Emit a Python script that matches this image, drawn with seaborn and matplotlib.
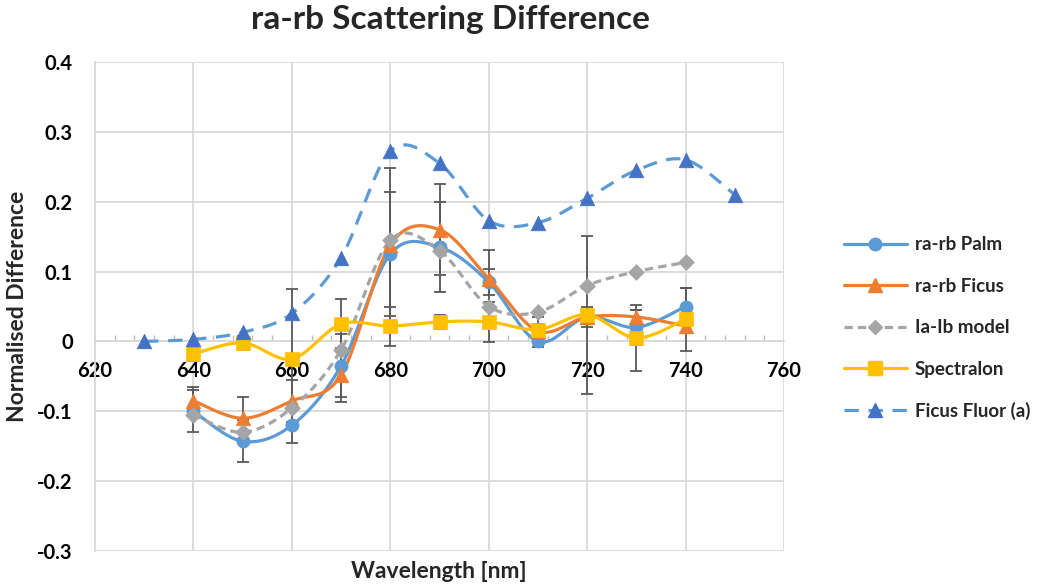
import numpy as np
import matplotlib
matplotlib.use("Agg")
import matplotlib.pyplot as plt
import seaborn as sns
import pandas as pd
from matplotlib.lines import Line2D
from matplotlib.ticker import MultipleLocator

# ---- data -------------------------------------------------------------
wl = [640, 650, 660, 670, 680, 690, 700, 710, 720, 730, 740]
wl_fluor = [630, 640, 650, 660, 670, 680, 690, 700, 710, 720, 730, 740, 750]

palm = [-0.100, -0.143, -0.120, -0.035, 0.125, 0.135, 0.085, 0.000, 0.035, 0.020, 0.050]
palm_err = [0.030, 0.030, 0.026, 0.045, 0.089, 0.064, 0.018, 0.008, 0.015, 0.025, 0.027]

ficus = [-0.085, -0.110, -0.085, -0.048, 0.138, 0.160, 0.090, 0.015, 0.035, 0.035, 0.022]
ficus_err = [0.020, 0.030, 0.030, 0.039, 0.110, 0.065, 0.041, 0.010, 0.010, 0.010, 0.010]

model = [-0.105, -0.130, -0.095, -0.012, 0.145, 0.130, 0.050, 0.042, 0.080, 0.100, 0.113]

spectralon = [-0.018, -0.002, -0.025, 0.025, 0.022, 0.028, 0.028, 0.017, 0.038, 0.005, 0.032]
spectralon_err = [0.010, 0.010, 0.100, 0.036, 0.028, 0.010, 0.029, 0.018, 0.113, 0.047, 0.045]

fluor = [0.000, 0.003, 0.013, 0.040, 0.120, 0.272, 0.255, 0.173, 0.170, 0.205, 0.245, 0.260, 0.210]

x_ticks = [620, 640, 660, 680, 700, 720, 740, 760]
y_ticks = [-0.3, -0.2, -0.1, 0, 0.1, 0.2, 0.3, 0.4]
y_tick_labels = ["-0.3", "-0.2", "-0.1", "0", "0.1", "0.2", "0.3", "0.4"]

title = "ra-rb Scattering Difference"
x_label = "Wavelength [nm]"
y_label = "Normalised Difference"


def smooth_curve(x, y, steps=24):
    """Cubic Bezier smoothing through every point (Catmull-Rom tangents)."""
    p = np.column_stack([np.asarray(x, float), np.asarray(y, float)])
    ext = np.vstack([p[0], p, p[-1]])
    out = []
    t = np.linspace(0, 1, steps)[:, None]
    for i in range(len(p) - 1):
        p0, p1, p2, p3 = ext[i], ext[i + 1], ext[i + 2], ext[i + 3]
        c1 = p1 + (p2 - p0) / 6.0
        c2 = p2 - (p3 - p1) / 6.0
        seg = ((1 - t) ** 3) * p1 + 3 * ((1 - t) ** 2) * t * c1 + 3 * (1 - t) * t ** 2 * c2 + t ** 3 * p2
        out.append(seg if i == 0 else seg[1:])
    s = np.vstack(out)
    return s[:, 0], s[:, 1]


sns.set_theme(style="white")
plt.rcParams["font.family"] = ["Lato", "DejaVu Sans"]
plt.rcParams["font.weight"] = "bold"

fig = plt.figure(figsize=(10.38, 5.85), dpi=100)
ax = fig.add_axes([95 / 1038, 1 - 551 / 585, (784 - 95) / 1038, (551 - 62) / 585])

grid_c = "#D9D9D9"
err_c = "#595959"

series = [
    dict(name="ra-rb Palm", x=wl, y=palm, color="#5B9BD5", mcolor="#5B9BD5", marker="o", ms=9.5, dash=None),
    dict(name="ra-rb Ficus", x=wl, y=ficus, color="#ED7D31", mcolor="#ED7D31", marker="^", ms=10.5, dash=None),
    dict(name="Ia-Ib model", x=wl, y=model, color="#A5A5A5", mcolor="#A5A5A5", marker="D", ms=8, dash=(2.6, 1.6)),
    dict(name="Spectralon", x=wl, y=spectralon, color="#FFC000", mcolor="#FFC000", marker="s", ms=10, dash=None),
    dict(name="Ficus Fluor (a)", x=wl_fluor, y=fluor, color="#5B9BD5", mcolor="#4472C4", marker="^", ms=10.5, dash=(4.5, 3.0)),
]

# error bars sit underneath the curves
for yv, ev in [(palm, palm_err), (ficus, ficus_err), (spectralon, spectralon_err)]:
    ax.errorbar(wl, yv, yerr=ev, fmt="none", ecolor=err_c, elinewidth=1.3,
                capsize=4.5, capthick=1.3, zorder=2)

lw = 2.3
for k, s in enumerate(series):
    sx, sy = smooth_curve(s["x"], s["y"])
    df = pd.DataFrame({"x": sx, "y": sy})
    line_kw = dict(color=s["color"], linewidth=lw, zorder=3 + k * 0.1)
    sns.lineplot(data=df, x="x", y="y", sort=False, ax=ax, legend=False, **line_kw)
    if s["dash"] is not None:
        ax.lines[-1].set_dashes(s["dash"])
    pts = pd.DataFrame({"x": s["x"], "y": s["y"]})
    sns.scatterplot(data=pts, x="x", y="y", ax=ax, marker=s["marker"], s=s["ms"] ** 2,
                    color=s["mcolor"], edgecolor=s["mcolor"], linewidth=0.5,
                    zorder=4 + k * 0.1, legend=False)

# axes and grid
ax.set_xlim(620, 760)
ax.set_ylim(-0.3, 0.4)
ax.set_xticks(x_ticks)
ax.set_xticklabels([str(v) for v in x_ticks])
ax.set_yticks(y_ticks)
ax.set_yticklabels(y_tick_labels)
ax.xaxis.set_minor_locator(MultipleLocator(4))
ax.grid(True, which="major", color=grid_c, linewidth=1.3)
ax.set_axisbelow(True)
ax.set_xlabel("")
ax.set_ylabel("")

for side in ["top", "right"]:
    ax.spines[side].set_visible(False)
ax.spines["left"].set_color(grid_c)
ax.spines["left"].set_linewidth(1.3)
ax.spines["bottom"].set_position(("data", 0))
ax.spines["bottom"].set_color(grid_c)
ax.spines["bottom"].set_linewidth(1.3)
ax.spines["bottom"].set_zorder(1)

tick_fs = 14.5
ax.tick_params(axis="x", which="major", length=0, pad=14, labelsize=tick_fs, labelcolor="black")
ax.tick_params(axis="x", which="minor", bottom=True, direction="in", length=4.5, width=1.0, color="#BFBFBF")
ax.tick_params(axis="y", which="major", length=0, pad=16, labelsize=tick_fs, labelcolor="black")
for lab in ax.get_xticklabels() + ax.get_yticklabels():
    lab.set_fontweight("bold")

fig.text(450 / 1038, 1 - 20 / 585, title, ha="center", va="center", fontsize=24, fontweight="bold")
fig.text(439 / 1038, 1 - 571 / 585, x_label, ha="center", va="center", fontsize=16.5, fontweight="bold")
fig.text(18 / 1038, 1 - 306 / 585, y_label, ha="center", va="center", rotation=90, fontsize=16.5, fontweight="bold")

handles = []
for s in series:
    h = Line2D([0], [0], color=s["color"], linewidth=lw, marker=s["marker"],
               markersize=s["ms"] * 0.95, markerfacecolor=s["mcolor"], markeredgecolor=s["mcolor"])
    if s["dash"] is not None:
        h.set_dashes(s["dash"])
    handles.append(h)

leg_fs = 13.5
leg = fig.legend(handles=handles, labels=[s["name"] for s in series], loc="upper left",
                 bbox_to_anchor=(836 / 1038, 1 - 229 / 585), frameon=False,
                 fontsize=leg_fs, handlelength=3.4, handletextpad=0.4, labelspacing=1.3,
                 borderaxespad=0)
for t in leg.get_texts():
    t.set_fontweight("bold")

fig.savefig("out.png", dpi=100)
